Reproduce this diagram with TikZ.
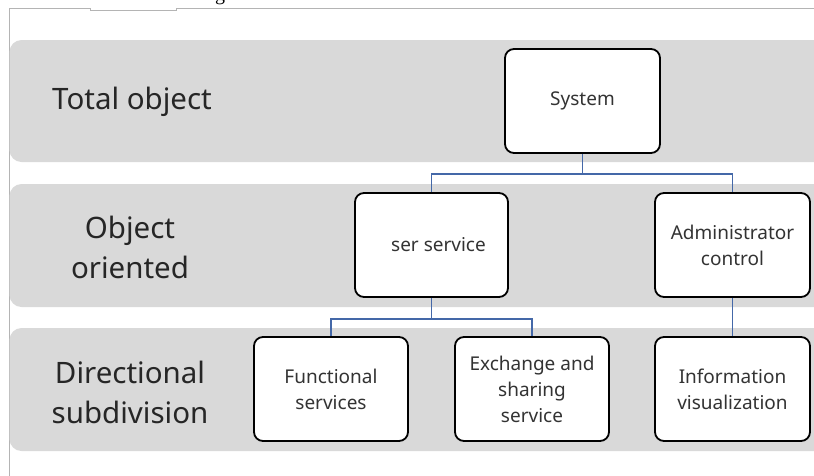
\documentclass[tikz,border=0pt]{standalone}
\usepackage{fontspec}
\usetikzlibrary{calc}
\setmainfont{Noto Sans}
\newfontfamily\serifg{Liberation Serif}
\definecolor{bandgray}{HTML}{D9D9D9}
\definecolor{linkblue}{HTML}{4468A8}
\definecolor{framegray}{HTML}{B4B4B4}
\begin{document}
\begin{tikzpicture}[x=1pt,y=-1pt,
  band/.style={fill=bandgray,draw=none,rounded corners=12pt},
  box/.style={draw=black,line width=1.8pt,rounded corners=9pt,fill=white,
    minimum width=#1,align=center,inner sep=0pt,
    font=\fontsize{19}{26}\selectfont,text=black!80},
  box/.default=155pt,
  level/.style={align=center,font=\fontsize{29.5}{40}\selectfont,text=black!85},
  link/.style={draw=linkblue,line width=1.5pt}]
\useasboundingbox (0,0) rectangle (814,475);
% frame lines
\draw[framegray,line width=1pt] (9,8) -- (90,8) -- (90,10) -- (176,10) -- (176,8) -- (820,8);
\draw[framegray,line width=1pt] (9,8) -- (9,480);
\node[anchor=base,font=\serifg\fontsize{20}{20}\selectfont,inner sep=0pt] (fig) at (220,0) {g};
% bands
\fill[band] (9.5,40) rectangle (840,162);
\fill[band] (9.5,184) rectangle (840,307);
\fill[band] (9.5,328) rectangle (840,451);
% level labels
\node[level] (l1) at (132,102) {Total object};
\node[level] (l2) at (130,247) {Object\\oriented};
\node[level] (l3) at (130,392) {Directional\\subdivision};
% boxes
\node[box=155pt,minimum height=104pt] (sys) at (582.5,101) {System};
\node[box=153pt,minimum height=104pt] (ser) at (431.5,245) {\hspace*{14pt}ser service};
\node[box=155pt,minimum height=104pt] (adm) at (732.5,245) {Administrator\\control};
\node[box=154pt,minimum height=104pt] (fun) at (331,389) {Functional\\services};
\node[box=154pt,minimum height=104pt] (exc) at (532,389) {Exchange and\\sharing\\service};
\node[box=155pt,minimum height=104pt] (inf) at (732.5,389) {Information\\visualization};
% connectors
\coordinate (j1) at ($(sys.south)+(0,20)$);
\coordinate (j2) at ($(ser.south)+(0,21)$);
\draw[link] (sys.south) -- (j1) -| (ser.north);
\draw[link] (j1) -| (adm.north);
\draw[link] (ser.south) -- (j2) -| (fun.north);
\draw[link] (j2) -| (exc.north);
\draw[link] (adm.south) -- (inf.north);
\end{tikzpicture}
\end{document}
